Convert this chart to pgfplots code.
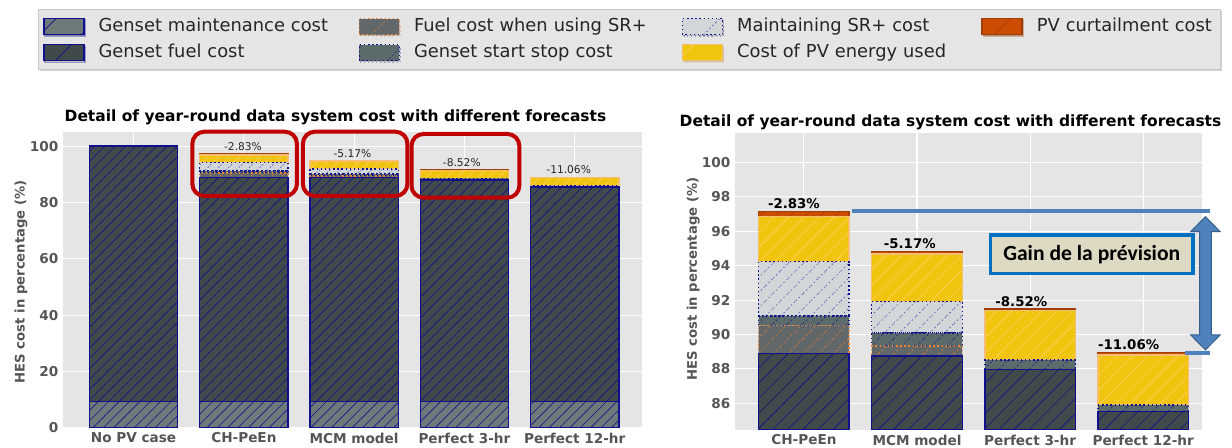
\documentclass[border=0pt]{standalone}
\usepackage{fontspec}
\setmainfont{DejaVu Sans}
\newfontfamily\carlito{Carlito}
\usepackage{pgfplots}
\pgfplotsset{compat=1.18}
\usetikzlibrary{patterns.meta,shadows}

\definecolor{ggbg}{HTML}{E5E5E5}
\definecolor{tickgray}{HTML}{555555}
\definecolor{cMaint}{HTML}{6E7A7A}
\definecolor{cFuel}{HTML}{414A4A}
\definecolor{cFuelSR}{HTML}{626769}
\definecolor{cSS}{HTML}{5B6B6B}
\definecolor{cMSR}{HTML}{D2D6D9}
\definecolor{cPV}{HTML}{F1C40F}
\definecolor{cPVedge}{HTML}{F6BE72}
\definecolor{cPVh}{HTML}{F8D45C}
\definecolor{cCurt}{HTML}{CC4C02}
\definecolor{cCurtEdge}{HTML}{A03F05}
\definecolor{cNavy}{HTML}{10108C}
\definecolor{cNavyL}{HTML}{4A4AB0}
\definecolor{cOrange}{HTML}{F08232}
\definecolor{cRed}{HTML}{C00000}
\definecolor{cBlue}{HTML}{4F81BD}
\definecolor{cBlueDark}{HTML}{385D8A}
\definecolor{boxfill}{HTML}{DDD9C3}
\definecolor{boxedge}{HTML}{0070C0}
\definecolor{legbg}{HTML}{E5E5E5}
\definecolor{legedge}{HTML}{C8C8C8}

\newcommand\tickfont{\fontsize{10.2}{12}\selectfont\bfseries}
\newcommand\labfont{\fontsize{9.9}{12}\selectfont\bfseries}
\newcommand\titlefont{\fontsize{11.6}{14}\selectfont\bfseries}
\newcommand\legfont{\fontsize{13.4}{16}\selectfont}

\tikzset{
  hatch/.style 2 args={postaction={pattern={Lines[angle=45,distance=#1,line width=0.45pt]},pattern color=#2}},
  dotedge/.style={dash pattern=on 1.1pt off 2pt},
  sMaint/.style={fill=cMaint,draw=cNavy,line width=1pt,solid,hatch={#1}{cNavy}},
  sFuel/.style={fill=cFuel,draw=cNavy,line width=1pt,solid,hatch={#1}{cNavy}},
  sFuelSR/.style={fill=cFuelSR,draw=cOrange,line width=1.1pt,dotedge,hatch={#1}{cOrange}},
  sSS/.style={fill=cSS,draw=cNavy,line width=1.1pt,dotedge,hatch={#1}{cNavy}},
  sMSR/.style={fill=cMSR,draw=cNavy,line width=1.1pt,dotedge,hatch={#1}{cNavyL}},
  sPV/.style={fill=cPV,draw=cPVedge,line width=1pt,solid,hatch={#1}{cPVh}},
  sCurt/.style={fill=cCurt,draw=cCurtEdge,line width=1pt,solid,hatch={#1}{cCurtEdge}},
}

\pgfplotsset{
  ggaxis/.style={
    anchor=south west, scale only axis,
    ybar stacked, bar width=0.8,
    axis background/.style={fill=ggbg},
    axis line style={draw=none},
    grid=major, major grid style={white,line width=0.8pt},
    major tick length=0pt,
    ticklabel style={font=\tickfont,text=tickgray},
    /pgf/number format/assume math mode=true,
    /pgf/number format/1000 sep={},
    ylabel={HES cost in percentage (\%)},
    title={Detail of year-round data system cost with different forecasts},
  }
}

\begin{document}
\begin{tikzpicture}
\path[use as bounding box] (0pt,0pt) rectangle (924pt,336pt);

% ---------------- legend (hidden axis) ----------------
\begin{axis}[
  at={(0pt,0pt)}, anchor=south west, scale only axis,
  width=924pt, height=336pt, hide axis,
  xmin=0, xmax=1, ymin=0, ymax=1,
  legend columns=4, legend cell align=left,
  legend image code/.code={\draw[sharp corners,#1] (0pt,-6pt) rectangle (30pt,6pt);},
  legend style={at={(0.0311,0.9792)}, anchor=north west,
    fill=legbg, draw=legedge, line width=0.75pt,
    drop shadow={opacity=0.35,shadow xshift=0.9pt,shadow yshift=-1.2pt},
    inner xsep=3.3pt, inner ysep=6pt, font=\legfont, text=black!85,
    row sep=6.5pt,
    nodes={inner sep=0pt, text height=10pt, text depth=3pt},
    /tikz/every odd column/.append style={column sep=10.5pt},
    /tikz/column 2/.style={nodes={text width=195pt}},
    /tikz/column 4/.style={nodes={text width=200.75pt}},
    /tikz/column 6/.style={nodes={text width=183.25pt}},
    /tikz/column 8/.style={nodes={text width=134.6pt}},
  },
]
\addlegendimage{sMaint=22pt}\addlegendentry{Genset maintenance cost}
\addlegendimage{sFuelSR=22pt}\addlegendentry{Fuel cost when using SR+}
\addlegendimage{sMSR=22pt}\addlegendentry{Maintaining SR+ cost}
\addlegendimage{sCurt=22pt}\addlegendentry{PV curtailment cost}
\addlegendimage{sFuel=22pt}\addlegendentry{Genset fuel cost}
\addlegendimage{sSS=22pt}\addlegendentry{Genset start stop cost}
\addlegendimage{sPV=22pt}\addlegendentry{Cost of PV energy used}
\end{axis}

% ---------------- left chart ----------------
\begin{axis}[
  ggaxis,
  at={(47.25pt,15pt)}, width=434.25pt, height=222pt,
  xmin=-0.64, xmax=4.61, ymin=0, ymax=105,
  xtick={0,1,2,3,4},
  xticklabels={No PV case,CH-PeEn,MCM model,Perfect 3-hr,Perfect 12-hr},
  ytick={0,20,40,60,80,100},
  ylabel style={at={(axis description cs:-0.0725,0.494)},anchor=center,font=\labfont,text=tickgray},
  title style={at={(axis description cs:0.4706,1)},anchor=base,yshift=1.8pt,font=\titlefont,text=black},
]
\addplot[sMaint=5.5pt] coordinates {(0,9.5) (1,9.5) (2,9.5) (3,9.5) (4,9.3)};
\addplot[sFuel=5.5pt] coordinates {(0,90.5) (1,79.41) (2,79.25) (3,78.48) (4,76.22)};
\addplot[sFuelSR=5.5pt] coordinates {(0,0) (1,1.61) (2,0.59) (3,0) (4,0)};
\addplot[sSS=5.5pt] coordinates {(0,0) (1,0.56) (2,0.74) (3,0.54) (4,0.38)};
\addplot[sMSR=5.5pt] coordinates {(0,0) (1,3.16) (2,1.83) (3,0) (4,0)};
\addplot[sPV=5.5pt] coordinates {(0,0) (1,2.63) (2,2.77) (3,2.86) (4,2.90)};
\addplot[sCurt=5.5pt] coordinates {(0,0) (1,0.30) (2,0.15) (3,0.10) (4,0.14)};
\end{axis}

% annotations of the left chart, in its data units (x: 82.714pt/unit, y: 2.11429pt/unit)
\begin{scope}[shift={(100.187pt,15pt)}, x=82.714pt, y=2.11429pt]
\node[anchor=base,inner sep=0pt,yshift=2.6pt,font=\fontsize{8}{9.6}\selectfont,text=black!85] at (0.992,97.17) {-2.83\%};
\node[anchor=base,inner sep=0pt,yshift=2.6pt,font=\fontsize{8}{9.6}\selectfont,text=black!85] at (1.984,94.83) {-5.17\%};
\node[anchor=base,inner sep=0pt,yshift=2.6pt,font=\fontsize{8}{9.6}\selectfont,text=black!85] at (2.976,91.48) {-8.52\%};
\node[anchor=base,inner sep=0pt,yshift=2.6pt,font=\fontsize{8}{9.6}\selectfont,text=black!85] at (3.945,88.94) {-11.06\%};
\draw[cRed,line width=3pt,rounded corners=9pt] (0.533,82.3) rectangle (1.481,105.1);
\draw[cRed,line width=3pt,rounded corners=9pt] (1.535,82.3) rectangle (2.483,105.1);
\draw[cRed,line width=3pt,rounded corners=9pt] (2.52,81.7) rectangle (3.498,104.3);
\end{scope}

% ---------------- right chart ----------------
\begin{axis}[
  ggaxis,
  at={(551.25pt,13.5pt)}, width=350pt, height=222.5pt,
  xmin=-0.609, xmax=3.517, ymin=84.45, ymax=101.7,
  xtick={0,1,2,3},
  xticklabels={CH-PeEn,MCM model,Perfect 3-hr,Perfect 12-hr},
  ytick={86,88,90,92,94,96,98,100},
  ylabel style={at={(axis description cs:-0.0894,0.509)},anchor=center,font=\labfont,text=tickgray},
  title style={at={(axis description cs:0.4618,1)},anchor=base,yshift=-0.75pt,font=\titlefont,text=black},
]
\addplot[sMaint=8pt] coordinates {(0,9.5) (1,9.5) (2,9.5) (3,9.3)};
\addplot[sFuel=8pt] coordinates {(0,79.41) (1,79.25) (2,78.48) (3,76.22)};
\addplot[sFuelSR=8pt] coordinates {(0,1.61) (1,0.59) (2,0) (3,0)};
\addplot[sSS=8pt] coordinates {(0,0.56) (1,0.74) (2,0.54) (3,0.38)};
\addplot[sMSR=8pt] coordinates {(0,3.16) (1,1.83) (2,0) (3,0)};
\addplot[sPV=8pt] coordinates {(0,2.63) (1,2.77) (2,2.86) (3,2.90)};
\addplot[sCurt=8pt] coordinates {(0,0.30) (1,0.15) (2,0.10) (3,0.14)};
\end{axis}

% annotations of the right chart, in its data units (x: 84.828pt/unit, y: 12.8986pt/unit)
\begin{scope}[shift={(602.91pt,-1075.79pt)}, x=84.828pt, y=12.8986pt]
\node[anchor=base,inner sep=0pt,yshift=2.25pt,font=\fontsize{10}{12}\selectfont\bfseries] at (-0.088,97.17) {-2.83\%};
\node[anchor=base,inner sep=0pt,yshift=2.25pt,font=\fontsize{10}{12}\selectfont\bfseries] at (0.936,94.83) {-5.17\%};
\node[anchor=base,inner sep=0pt,yshift=2.25pt,font=\fontsize{10}{12}\selectfont\bfseries] at (1.922,91.48) {-8.52\%};
\node[anchor=base,inner sep=0pt,yshift=2.25pt,font=\fontsize{10}{12}\selectfont\bfseries] at (2.871,88.94) {-11.06\%};
\draw[cBlue,line width=3pt] (0.421,97.17) -- (3.592,97.17);
\draw[cBlue,line width=3pt] (3.372,88.94) -- (3.592,88.94);
\coordinate (AR) at (3.550,92.98);
\coordinate (TB) at (2.545,94.67);
\end{scope}
\begin{scope}[shift={(AR)}]
\filldraw[fill=cBlue,draw=cBlueDark,line width=0.75pt]
  (0pt,50pt) -- (11pt,38.75pt) -- (4.4pt,38.75pt) -- (4.4pt,-38.75pt) -- (11pt,-38.75pt)
  -- (0pt,-50pt) -- (-11pt,-38.75pt) -- (-4.4pt,-38.75pt) -- (-4.4pt,38.75pt) -- (-11pt,38.75pt) -- cycle;
\end{scope}
\node[fill=boxfill,draw=boxedge,line width=2.4pt,minimum width=152pt,minimum height=28.7pt,inner sep=0pt,
      font={\carlito\fontsize{16.2}{19}\selectfont\bfseries}] at (TB) {Gain de la prévision};
\end{tikzpicture}
\end{document}
